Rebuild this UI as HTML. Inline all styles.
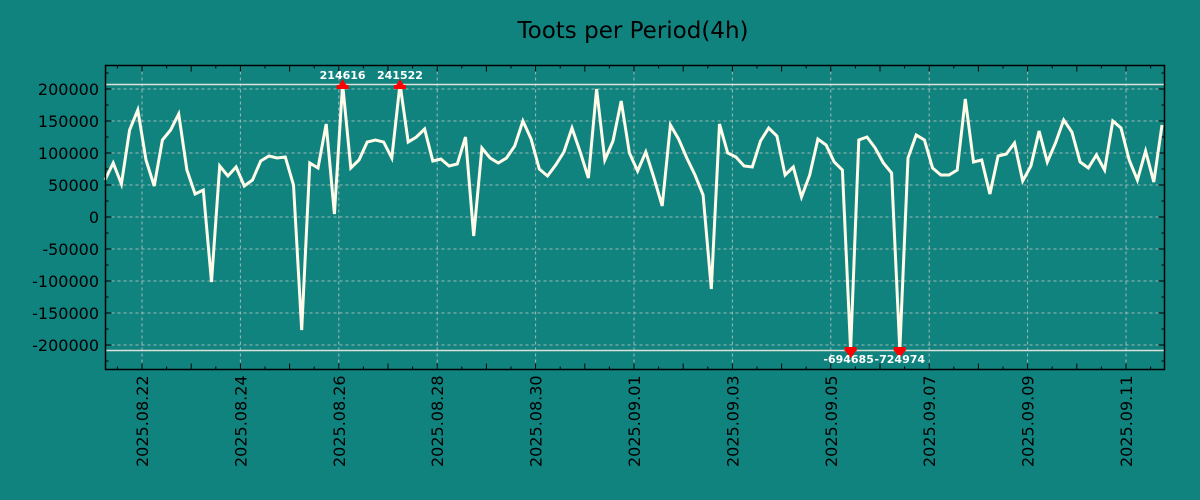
<!DOCTYPE html>
<html><head><meta charset="utf-8"><style>
html,body{margin:0;padding:0;background:#10837f;}
svg{display:block;font-family:"DejaVu Sans","Liberation Sans",sans-serif;}
</style></head><body>
<svg id="s" width="1200" height="500" xmlns="http://www.w3.org/2000/svg">
<rect width="1200" height="500" fill="#10837f"/>
<text x="633" y="38" font-size="23" text-anchor="middle" fill="#000">Toots per Period(4h)</text>
<g id="g"></g>
</svg>
<script>
var g=document.getElementById('g'),h='';
var L=105.5,R=1164.5,T=65.5,B=369.5;
function Y(v){return 217-v*0.00064;}
for(var v=-200000;v<=200000;v+=50000){var y=Y(v);
h+='<line x1="'+L+'" x2="'+R+'" y1="'+y+'" y2="'+y+'" stroke="#c8c8c8" stroke-width="1" stroke-dasharray="3,3" opacity="0.8"/>';
h+='<line x1="'+L+'" x2="'+(L+6)+'" y1="'+y+'" y2="'+y+'" stroke="#000"/><line x1="'+(R-6)+'" x2="'+R+'" y1="'+y+'" y2="'+y+'" stroke="#000"/>';
h+='<text x="99" y="'+(y+6)+'" font-size="16" text-anchor="end" fill="#000">'+v+'</text>';}
for(var v=-225000;v<=225000;v+=50000){var y=Y(v);if(y<T||y>B)continue;
h+='<line x1="'+L+'" x2="'+(L+3)+'" y1="'+y+'" y2="'+y+'" stroke="#000"/><line x1="'+(R-3)+'" x2="'+R+'" y1="'+y+'" y2="'+y+'" stroke="#000"/>';}
var labs=['2025.08.22','2025.08.24','2025.08.26','2025.08.28','2025.08.30','2025.09.01','2025.09.03','2025.09.05','2025.09.07','2025.09.09','2025.09.11'];
for(var i=0;i<11;i++){var x=142+i*98.4;
h+='<line x1="'+x+'" x2="'+x+'" y1="'+T+'" y2="'+B+'" stroke="#c8c8c8" stroke-dasharray="3,3" opacity="0.8"/>';
h+='<text transform="translate('+(x+6)+',467) rotate(-90)" font-size="16" fill="#000">'+labs[i]+'</text>';}
for(var x=142-24.6;x<R;x+=24.6){if(x<L)continue;var big=Math.abs(((x-142)/49.2)-Math.round((x-142)/49.2))<0.01;var len=big?6:3;
h+='<line x1="'+x+'" x2="'+x+'" y1="'+T+'" y2="'+(T+len)+'" stroke="#000"/><line x1="'+x+'" x2="'+x+'" y1="'+(B-len)+'" y2="'+B+'" stroke="#000"/>';}
h+='<line x1="'+L+'" x2="'+R+'" y1="84.5" y2="84.5" stroke="#e0e0d8" stroke-width="1.5"/>';
h+='<line x1="'+L+'" x2="'+R+'" y1="350.5" y2="350.5" stroke="#e0e0d8" stroke-width="1.5"/>';
var ys=[180,163,184,130,110,160,186,140,130,114,170,194,190,282,166,176,167,186,180,161,156,158,157,185,330,163,168,124,214,84,168,160,142,140,142,158,84,142,137,129,161,159,166,164,137,236,148,158,163,158,146,121,139,169,176,165,152,128,152,178,89,160,141,101,153,171,152,178,206,125,139,158,175,195,289,124,153,157,166,167,141,128,136,175,167,197,175,139,145,162,170,350,140,137,148,163,173,350,158,135,140,168,175,175,170,99,162,160,194,156,154,143,181,166,131,162,143,120,132,162,168,155,170,121,128,160,180,151,182,125];
var step=(1162-105)/(ys.length-1),p='';
for(var i=0;i<ys.length;i++){p+=(i?'L':'M')+(105+i*step).toFixed(1)+','+ys[i];}
h+='<path d="'+p+'" fill="none" stroke="#fffbe8" stroke-width="3" stroke-linejoin="miter"/>';
function up(x){return '<polygon points="'+(x-6)+',89 '+(x+6)+',89 '+x+',79" fill="red"/><rect x="'+(x-6)+'" y="85" width="12" height="4" fill="red"/>';}
function dn(x){return '<polygon points="'+(x-6)+',350 '+(x+6)+',350 '+x+',358" fill="red"/><rect x="'+(x-6)+'" y="347" width="12" height="4" fill="red"/>';}
var x1=105+29*step,x2=105+36*step,x3=105+91*step,x4=105+97*step;
h+=up(x1)+up(x2)+dn(x3)+dn(x4);
h+='<text x="'+x1+'" y="79" font-size="11" font-weight="bold" text-anchor="middle" fill="#fff">214616</text>';
h+='<text x="'+x2+'" y="79" font-size="11" font-weight="bold" text-anchor="middle" fill="#fff">241522</text>';
h+='<text x="'+(x3-2)+'" y="363" font-size="11" font-weight="bold" text-anchor="middle" fill="#fff">-694685</text>';
h+='<text x="'+(x4)+'" y="363" font-size="11" font-weight="bold" text-anchor="middle" fill="#fff">-724974</text>';
h+='<rect x="'+L+'" y="'+T+'" width="'+(R-L)+'" height="'+(B-T)+'" fill="none" stroke="#000" stroke-width="1.5"/>';
g.innerHTML=h;
</script>
</body></html>
